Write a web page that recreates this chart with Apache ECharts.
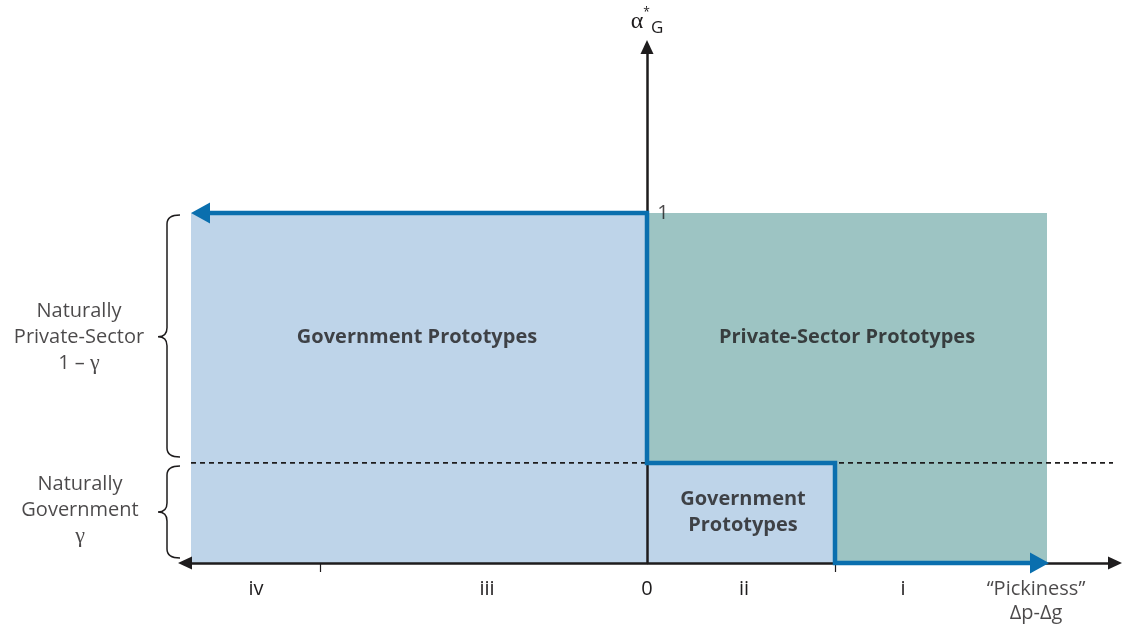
<!DOCTYPE html>
<html>
<head>
<meta charset="utf-8">
<script src="https://cdn.jsdelivr.net/npm/echarts@6/dist/echarts.min.js"></script>
<style>
html, body { margin: 0; padding: 0; background: #fff; }
#chart { width: 1123px; height: 629px; }
</style>
</head>
<body>
<div id="chart"></div>
<script>
// x: "pickiness" (0 at the vertical axis), y: alpha*G (1 at the top level)
const gamma = 0.286
const zoneNames = ['iv', 'iii', '0', 'ii', 'i']
const zoneCenters = [-3.91, -1.6, 0, 0.97, 2.56]
const zoneTicks = [-3.27, 1.88]

// rectangles: [x0, x1, y0, y1]
const govRegions = [[-4.56, 0, 0, 1], [0, 1.88, 0, gamma]]
const privRegions = [[0, 4.0, gamma, 1], [1.88, 4.0, 0, gamma]]

// the thick blue boundary and its arrow heads
const boundary = [[-4.47, 1], [0, 1], [0, gamma], [1.88, gamma], [1.88, 0], [3.93, 0]]
const arrowHeads = [[-4.465, 1, 90], [3.925, 0, -90]]

const gammaLine = [[-4.56, gamma], [4.66, gamma]]

// braces on the left: [top, bottom, middle]
const braceX = -4.67
const braces = [[0.994, 0.303, 0.646], [0.277, 0.014, 0.146]]

const sideLabels = [
  { name: 'Naturally\nPrivate-Sector\n1 – {g|γ}', value: [-5.68, 0.646] },
  { name: 'Naturally\nGovernment\n{g|γ}', value: [-5.67, 0.151] },
]
const regionLabels = [
  { name: 'Government Prototypes', value: [-2.3, 0.646] },
  { name: 'Private-Sector Prototypes', value: [2.0, 0.646] },
  { name: 'Government\nPrototypes', value: [0.96, 0.146] },
]
const topLevelLabel = [{ name: '1', value: [0.16, 1.0] }]
const axisNameLabel = [{ name: '“Pickiness”\nΔp-Δg', value: [3.89, -0.109] }]

const ink = '#1e1c1d'
const font = 'Open Sans'
const blueLine = '#0a6fae'

const chart = echarts.init(document.getElementById('chart'))

const rectSeries = (data, color) => ({
  type: 'custom',
  z: 1,
  clip: false,
  silent: true,
  data: data,
  renderItem: (params, api) => {
    const p0 = api.coord([api.value(0), api.value(3)])
    const p1 = api.coord([api.value(1), api.value(2)])
    return {
      type: 'rect',
      shape: { x: p0[0], y: p0[1], width: p1[0] - p0[0], height: p1[1] - p0[1] },
      style: { fill: color },
    }
  },
})

const textSeries = (data, style) => ({
  type: 'scatter',
  z: 6,
  clip: false,
  silent: true,
  symbolSize: 1,
  itemStyle: { color: 'transparent' },
  data: data,
  label: Object.assign({
    show: true,
    position: 'inside',
    formatter: (p) => p.name,
    color: ink,
    fontFamily: font,
    fontSize: 20,
    lineHeight: 26,
    align: 'center',
    rich: {
      g: { fontFamily: 'Liberation Serif', fontSize: 22, color: ink, lineHeight: 26 },
    },
  }, style),
})

chart.setOption({
  animation: false,
  grid: { left: 185, right: 8, top: 47, bottom: 66 },
  xAxis: {
    type: 'value',
    min: -4.62,
    max: 4.68,
    z: 3,
    splitLine: { show: false },
    axisLine: {
      onZero: true,
      symbol: ['triangle', 'triangle'],
      symbolSize: [13, 14],
      lineStyle: { color: ink, width: 2.5 },
    },
    axisTick: {
      show: true,
      customValues: zoneTicks,
      length: 9,
      lineStyle: { color: ink, width: 1.2 },
    },
    axisLabel: {
      customValues: zoneCenters,
      formatter: (v) => zoneNames[zoneCenters.indexOf(v)],
      margin: 16,
      fontSize: 20,
      fontFamily: font,
      color: ink,
    },
  },
  yAxis: {
    type: 'value',
    min: 0,
    max: 1.474,
    z: 3,
    splitLine: { show: false },
    axisLine: {
      onZero: true,
      symbol: ['none', 'triangle'],
      symbolSize: [13, 14],
      lineStyle: { color: ink, width: 2.5 },
    },
    axisTick: { show: false },
    axisLabel: { show: false },
    name: '{a|α}{s|*}{g|G}',
    nameLocation: 'end',
    nameGap: 10,
    nameTextStyle: {
      color: ink,
      rich: {
        a: { fontSize: 24, fontFamily: 'Liberation Serif', lineHeight: 30, verticalAlign: 'middle', color: ink },
        s: { fontSize: 12, fontFamily: font, verticalAlign: 'top', color: ink },
        g: { fontSize: 17, fontFamily: font, verticalAlign: 'bottom', color: ink, padding: [12, 0, 0, 1] },
      },
    },
  },
  series: [
    rectSeries(govRegions, '#bed4e9'),
    rectSeries(privRegions, '#9dc4c3'),
    {
      type: 'line',
      z: 2,
      clip: false,
      silent: true,
      symbol: 'none',
      data: gammaLine,
      lineStyle: { color: ink, width: 1.6, type: [5, 4] },
    },
    {
      type: 'line',
      z: 4,
      clip: false,
      silent: true,
      symbol: 'none',
      data: boundary,
      lineStyle: { color: blueLine, width: 4.5, cap: 'butt', join: 'miter' },
    },
    {
      type: 'scatter',
      z: 5,
      clip: false,
      silent: true,
      symbol: 'triangle',
      symbolSize: [21, 19],
      symbolRotate: (val) => val[2],
      itemStyle: { color: blueLine, opacity: 1 },
      data: arrowHeads,
    },
    {
      type: 'custom',
      z: 5,
      clip: false,
      silent: true,
      data: braces,
      renderItem: (params, api) => {
        const xr = api.coord([braceX, 0])[0]
        const t = api.coord([0, api.value(0)])[1]
        const b = api.coord([0, api.value(1)])[1]
        const m = api.coord([0, api.value(2)])[1]
        const xl = xr - 13
        const tip = xr - 22
        const r = 9
        const d = `M${xr} ${t} Q${xl} ${t} ${xl} ${t + r} L${xl} ${m - r} Q${xl} ${m} ${tip} ${m} ` +
          `Q${xl} ${m} ${xl} ${m + r} L${xl} ${b - r} Q${xl} ${b} ${xr} ${b}`
        return {
          type: 'path',
          shape: { pathData: d, x: tip, y: t, width: xr - tip, height: b - t, layout: 'cover' },
          style: { fill: 'none', stroke: ink, lineWidth: 1.5 },
        }
      },
    },
    textSeries(sideLabels, {}),
    textSeries(regionLabels, { fontWeight: 'bold' }),
    textSeries(topLevelLabel, {}),
    textSeries(axisNameLabel, { lineHeight: 24 }),
  ],
})
</script>
</body>
</html>
